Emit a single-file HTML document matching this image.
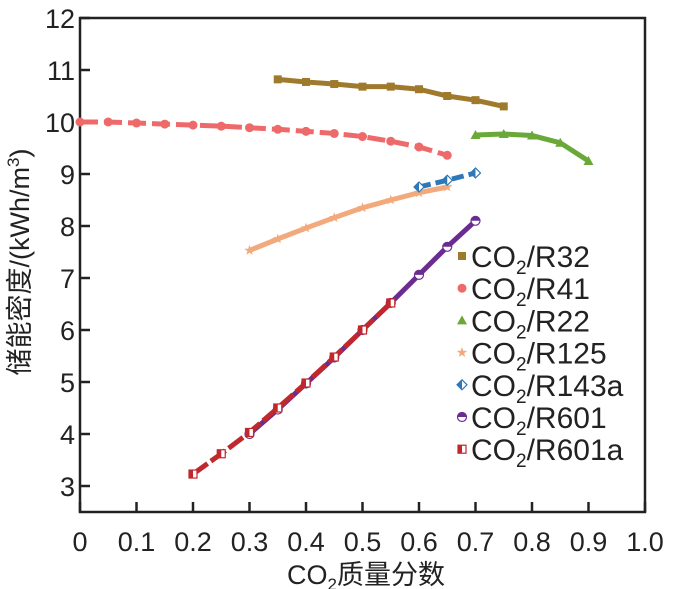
<!DOCTYPE html>
<html><head><meta charset="utf-8"><style>
body{margin:0;background:#fff}
svg{display:block;font-family:"Liberation Sans","Noto Sans CJK SC",sans-serif}
</style></head><body>
<svg id="c" width="673" height="589"></svg>
<script>
const xTicks=[0,0.1,0.2,0.3,0.4,0.5,0.6,0.7,0.8,0.9,1.0];
const xTickLabels=["0","0.1","0.2","0.3","0.4","0.5","0.6","0.7","0.8","0.9","1.0"];
const yTicks=[3,4,5,6,7,8,9,10,11,12];
const r32X=[0.35,0.4,0.45,0.5,0.55,0.6,0.65,0.7,0.75];
const r32Y=[10.82,10.77,10.73,10.68,10.68,10.63,10.5,10.42,10.3];
const r41X=[0,0.05,0.1,0.15,0.2,0.25,0.3,0.35,0.4,0.45,0.5,0.55,0.6,0.65];
const r41Y=[10.0,10.0,9.98,9.96,9.94,9.92,9.89,9.86,9.82,9.78,9.72,9.63,9.52,9.36];
const r22X=[0.7,0.75,0.8,0.85,0.9];
const r22Y=[9.75,9.77,9.74,9.6,9.25];
const r125X=[0.3,0.35,0.4,0.45,0.5,0.55,0.6,0.65];
const r125Y=[7.53,7.75,7.96,8.16,8.35,8.5,8.64,8.75];
const r143X=[0.6,0.65,0.7];
const r143Y=[8.75,8.88,9.02];
const r601X=[0.3,0.35,0.4,0.45,0.5,0.55,0.6,0.65,0.7];
const r601Y=[4.0,4.47,4.97,5.47,6.0,6.52,7.06,7.6,8.1];
const r601aX=[0.2,0.25,0.3,0.35,0.4,0.45,0.5,0.55];
const r601aY=[3.23,3.62,4.03,4.5,4.98,5.48,6.0,6.52];

const L=80,R=645,T=18,B=512;
const sx=v=>L+v*(R-L);
const sy=v=>486-(v-3)*52;
const svg=document.getElementById('c');
const NS="http://www.w3.org/2000/svg";
function mk(t,a,p){const e=document.createElementNS(NS,t);for(const k in a)e.setAttribute(k,a[k]);(p||svg).appendChild(e);return e;}

let fr=mk('rect',{x:L,y:T,width:R-L,height:B-T,fill:'none',stroke:'#222','stroke-width':2.5});


xTicks.forEach((v,i)=>{
  let t=mk('line',{x1:sx(v),x2:sx(v),y1:B,y2:B-10,stroke:'#222','stroke-width':2.5});
  
  
  let tx=mk('text',{x:sx(v),y:B+39,'text-anchor':'middle','font-size':27,fill:'#222'});
  tx.textContent=xTickLabels[i];
  
  
});
yTicks.forEach(v=>{
  let t=mk('line',{x1:L,x2:L+10,y1:sy(v),y2:sy(v),stroke:'#222','stroke-width':2.5});
  
  
  let tx=mk('text',{x:L-5,y:sy(v)+10,'text-anchor':'end','font-size':27,fill:'#222'});
  tx.textContent=String(v);
  
  
});
let xt=mk('text',{x:366,y:584,'text-anchor':'middle','font-size':27,fill:'#222'});
xt.innerHTML='CO<tspan font-size="17" dy="6">2</tspan><tspan dy="-6">质量分数</tspan>';


let yt=mk('text',{x:0,y:0,'text-anchor':'middle','font-size':27,fill:'#222',transform:'translate(29,262) rotate(-90)'});
yt.innerHTML='储能密度/(kWh/m<tspan font-size="17" dy="-10">3</tspan><tspan dy="10">)</tspan>';



function marker(type,x,y,c,g){
  if(type==='sq')mk('rect',{x:x-4,y:y-4,width:8,height:8,fill:c},g);
  else if(type==='ci')mk('circle',{cx:x,cy:y,r:4.5,fill:c},g);
  else if(type==='tr')mk('polygon',{points:`${x},${y-5} ${x+5},${y+4} ${x-5},${y+4}`,fill:c},g);
  else if(type==='st'){let p=[];for(let i=0;i<10;i++){let r=i%2?2.2:5.5,a=-Math.PI/2+i*Math.PI/5;p.push((x+r*Math.cos(a)).toFixed(1)+','+(y+r*Math.sin(a)).toFixed(1));}mk('polygon',{points:p.join(' '),fill:c},g);}
  else if(type==='di'){mk('polygon',{points:`${x},${y-5} ${x+5},${y} ${x},${y+5} ${x-5},${y}`,fill:'#fff',stroke:c,'stroke-width':1.2},g);mk('polygon',{points:`${x},${y-5} ${x-5},${y} ${x},${y+5}`,fill:c},g);}
  else if(type==='hc'){mk('circle',{cx:x,cy:y,r:4.5,fill:'#fff',stroke:c,'stroke-width':1.2},g);mk('path',{d:`M${x-4.5},${y} A4.5,4.5 0 0 1 ${x+4.5},${y} Z`,fill:c},g);}
  else if(type==='hs'){mk('rect',{x:x-4,y:y-4,width:8,height:8,fill:'#fff',stroke:c,'stroke-width':1.2},g);mk('rect',{x:x-4,y:y-4,width:4,height:8,fill:c},g);}
}
const series=[
 ['r32',r32X,r32Y,'#a07a2c','sq',''],
 ['r41',r41X,r41Y,'#ee6a6a','ci','18 6'],
 ['r22',r22X,r22Y,'#6aa83a','tr',''],
 ['r125',r125X,r125Y,'#f2a97c','st',''],
 ['r143a',r143X,r143Y,'#2f78b8','di','12 5'],
 ['r601',r601X,r601Y,'#6a2c90','hc',''],
 ['r601a',r601aX,r601aY,'#c0282e','hs','18 4'],
];
const names=['R32','R41','R22','R125','R143a','R601','R601a'];
series.forEach(([n,xs,ys,c,m,d],i)=>{
  const g=mk('g',{});
  
  
  const pl=mk('polyline',{points:xs.map((x,j)=>sx(x)+','+sy(ys[j])).join(' '),fill:'none',stroke:c,'stroke-width':5,'stroke-dasharray':d},g);
  
  
  xs.forEach((x,j)=>marker(m,sx(x),sy(ys[j]),c,g));
  const lg=mk('g',{});
  
  
  const ly=256+i*32.2;
  marker(m,462,ly,c,lg);
  const t=mk('text',{x:471,y:ly+11,'font-size':30,fill:'#222'},lg);
  t.innerHTML='CO<tspan font-size="19" dy="7">2</tspan><tspan dy="-7">/'+names[i]+'</tspan>';
});
</script>
</body></html>
